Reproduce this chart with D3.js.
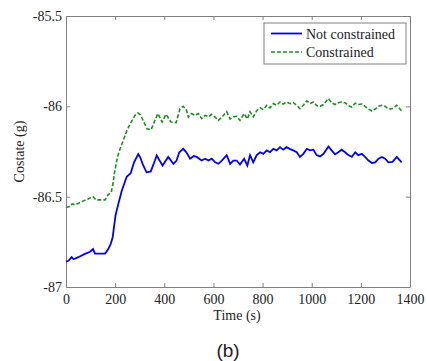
<!DOCTYPE html>
<html>
<head>
<meta charset="utf-8">
<script src="https://cdn.jsdelivr.net/npm/d3@7"></script>
<style>
  body { margin: 0; background: #fff; }
  svg { display: block; }
  .axis path, .axis line { stroke: #808080; }
  .axis text { font-family: "Liberation Serif", serif; font-size: 14px; fill: #222; }
</style>
</head>
<body>
<div id="chart"></div>
<script>
// time (s) and costate values
const blueTime = [0, 10, 23, 30, 37, 50, 77, 98, 110, 118, 159, 172, 182, 190, 196, 202, 213, 227, 247, 263, 277, 294, 303, 312, 328, 345, 362, 369, 393, 416, 437, 450, 461, 477, 490, 505, 520, 532, 552, 566, 580, 593, 607, 620, 634, 654, 668, 681, 695, 708, 725, 738, 749, 762, 776, 790, 803, 817, 830, 844, 857, 871, 884, 898, 912, 925, 939, 952, 966, 980, 993, 1007, 1020, 1034, 1048, 1068, 1081, 1095, 1108, 1122, 1136, 1149, 1163, 1177, 1190, 1204, 1217, 1231, 1245, 1258, 1272, 1285, 1299, 1312, 1329, 1346, 1366];
const blueValue = [-86.86, -86.855, -86.835, -86.845, -86.843, -86.835, -86.817, -86.805, -86.79, -86.815, -86.815, -86.79, -86.762, -86.725, -86.66, -86.6, -86.54, -86.467, -86.39, -86.37, -86.31, -86.265, -86.285, -86.32, -86.365, -86.36, -86.3, -86.272, -86.328, -86.28, -86.318, -86.3, -86.254, -86.235, -86.255, -86.29, -86.275, -86.28, -86.3, -86.29, -86.3, -86.29, -86.31, -86.318, -86.3, -86.27, -86.318, -86.3, -86.3, -86.322, -86.29, -86.328, -86.27, -86.31, -86.27, -86.254, -86.263, -86.244, -86.254, -86.235, -86.244, -86.226, -86.24, -86.226, -86.237, -86.244, -86.254, -86.28, -86.263, -86.235, -86.244, -86.24, -86.27, -86.277, -86.263, -86.222, -86.244, -86.266, -86.254, -86.24, -86.254, -86.27, -86.28, -86.254, -86.27, -86.263, -86.28, -86.3, -86.314, -86.31, -86.29, -86.28, -86.29, -86.31, -86.307, -86.28, -86.31];

const greenTime = [0, 15, 25, 37, 60, 90, 110, 122, 159, 171, 184, 191, 197, 205, 214, 228, 248, 265, 281, 293, 302, 311, 330, 346, 362, 374, 391, 407, 427, 448, 464, 477, 490, 498, 511, 525, 539, 552, 566, 580, 593, 607, 620, 634, 654, 668, 681, 695, 708, 725, 738, 749, 762, 776, 790, 803, 817, 830, 844, 857, 871, 884, 898, 912, 925, 939, 952, 966, 980, 993, 1007, 1020, 1034, 1048, 1068, 1081, 1095, 1108, 1122, 1136, 1149, 1163, 1177, 1190, 1204, 1217, 1231, 1245, 1258, 1272, 1285, 1299, 1312, 1329, 1346, 1366];
const greenValue = [-86.56, -86.555, -86.54, -86.545, -86.53, -86.513, -86.5, -86.518, -86.518, -86.49, -86.476, -86.43, -86.37, -86.31, -86.26, -86.207, -86.133, -86.087, -86.05, -86.037, -86.045, -86.07, -86.124, -86.13, -86.078, -86.04, -86.087, -86.044, -86.087, -86.09, -86.013, -86.0, -86.02, -86.06, -86.04, -86.05, -86.04, -86.068, -86.05, -86.058, -86.044, -86.06, -86.078, -86.06, -86.03, -86.07, -86.058, -86.056, -86.078, -86.04, -86.07, -86.03, -86.058, -86.024, -86.008, -86.018, -85.994, -86.008, -85.985, -85.994, -85.976, -85.988, -85.976, -85.985, -85.98, -85.994, -86.013, -85.994, -85.97, -85.985, -85.976, -85.996, -86.0, -85.99, -85.957, -85.98, -85.99, -85.98, -85.976, -85.98, -85.996, -86.004, -85.983, -85.99, -85.987, -86.0, -86.015, -86.026, -86.015, -86.0, -85.994, -86.0, -86.015, -86.012, -85.994, -86.026];

const xTicks = [0, 200, 400, 600, 800, 1000, 1200, 1400];
const yTicks = [-87, -86.5, -86, -85.5];
const seriesNames = ['Not constrained', 'Constrained'];
const seriesColors = ['#0000ff', '#1f8f1f'];

const W = 427, H = 361;
const margin = {top: 16, right: 17, bottom: 74, left: 66};
const width = W - margin.left - margin.right;
const height = H - margin.top - margin.bottom;

const svg = d3.select('#chart').append('svg')
    .attr('width', W)
    .attr('height', H);

const g = svg.append('g')
    .attr('transform', `translate(${margin.left}, ${margin.top})`);

const x = d3.scaleLinear().domain([0, 1400]).range([0, width]);
const y = d3.scaleLinear().domain([-87, -85.5]).range([height, 0]);

// matlab style box: ticks pointing inward on all four sides
g.append('g')
    .attr('class', 'axis')
    .attr('transform', `translate(0, ${height})`)
    .call(d3.axisBottom(x).tickValues(xTicks).tickSizeInner(-4).tickSizeOuter(0).tickPadding(7).tickFormat(d3.format('d')));

g.append('g')
    .attr('class', 'axis')
    .call(d3.axisLeft(y).tickValues(yTicks).tickSizeInner(-4).tickSizeOuter(0).tickPadding(4).tickFormat(d => d));

g.append('g')
    .attr('class', 'axis')
    .call(d3.axisTop(x).tickValues(xTicks).tickSizeInner(-4).tickSizeOuter(0).tickFormat(''));

g.append('g')
    .attr('class', 'axis')
    .attr('transform', `translate(${width}, 0)`)
    .call(d3.axisRight(y).tickValues(yTicks).tickSizeInner(-4).tickSizeOuter(0).tickFormat(''));

const line = d3.line()
    .x(d => x(d[0]))
    .y(d => y(d[1]));

const blueData = d3.zip(blueTime, blueValue);
const greenData = d3.zip(greenTime, greenValue);

g.append('path')
    .datum(greenData)
    .attr('fill', 'none')
    .attr('stroke', seriesColors[1])
    .attr('stroke-width', 1.6)
    .attr('stroke-dasharray', '4,2')
    .attr('d', line);

g.append('path')
    .datum(blueData)
    .attr('fill', 'none')
    .attr('stroke', seriesColors[0])
    .attr('stroke-width', 1.8)
    .attr('d', line);

// legend
const legend = svg.append('g')
    .attr('transform', 'translate(264, 23)');

legend.append('rect')
    .attr('width', 142)
    .attr('height', 41)
    .attr('fill', '#fff')
    .attr('stroke', '#808080');

seriesNames.forEach(function(name, i) {
    const ly = 10.5 + i * 18.5;
    legend.append('line')
        .attr('x1', 7).attr('x2', 38)
        .attr('y1', ly).attr('y2', ly)
        .attr('stroke', seriesColors[i])
        .attr('stroke-width', i === 0 ? 1.8 : 1.6)
        .attr('stroke-dasharray', i === 0 ? null : '4,2');
    legend.append('text')
        .attr('x', 42)
        .attr('y', ly + 5)
        .style('font-family', '"Liberation Serif", serif')
        .style('font-size', '14px')
        .attr('fill', '#222')
        .text(name);
});

svg.append('text')
    .attr('x', 237)
    .attr('y', 320)
    .attr('text-anchor', 'middle')
    .style('font-family', '"Liberation Serif", serif')
    .style('font-size', '14px')
    .attr('fill', '#222')
    .text('Time (s)');

svg.append('text')
    .attr('transform', `translate(24, ${margin.top + height / 2}) rotate(-90)`)
    .attr('text-anchor', 'middle')
    .style('font-family', '"Liberation Serif", serif')
    .style('font-size', '14px')
    .attr('fill', '#222')
    .text('Costate (g)');

svg.append('text')
    .attr('x', 228)
    .attr('y', 357)
    .attr('text-anchor', 'middle')
    .style('font-family', '"Liberation Sans", sans-serif')
    .style('font-size', '19px')
    .attr('fill', '#222')
    .text('(b)');
</script>
</body>
</html>
